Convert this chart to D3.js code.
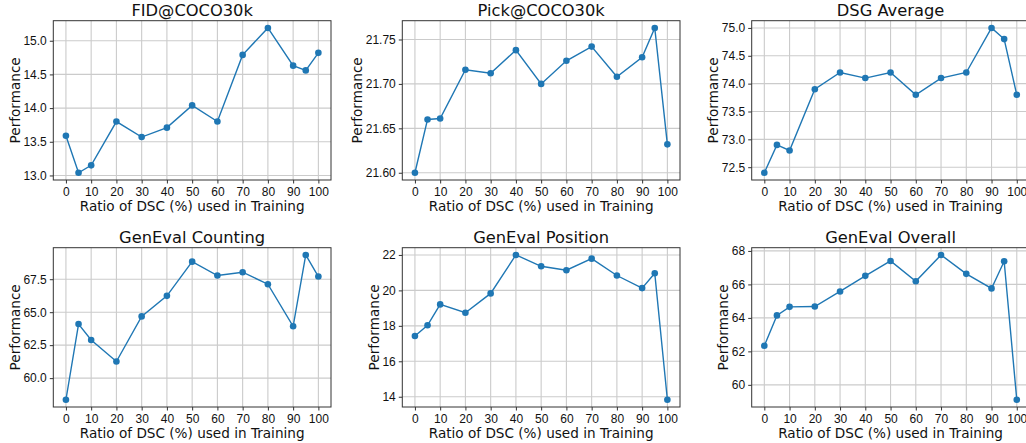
<!DOCTYPE html>
<html>
<head>
<meta charset="utf-8">
<script src="https://d3js.org/d3.v7.min.js"></script>
<style>
  body { margin: 0; background: #fff; }
  svg { display: block; font-family: "DejaVu Sans", sans-serif; }
  .tick text { font-size: 12px; fill: #111; }
  .tick line { stroke: #333; }
  .domain { display: none; }
</style>
</head>
<body>
<svg width="1026" height="443"></svg>
<script>
// x values (ratio of DSC used in training)
var ratios = [0, 5, 10, 20, 30, 40, 50, 60, 70, 80, 90, 95, 100];
var xTicks = [0, 10, 20, 30, 40, 50, 60, 70, 80, 90, 100];

// series
var fidCoco = [13.59, 13.04, 13.15, 13.80, 13.57, 13.71, 14.04, 13.80, 14.79, 15.19, 14.63, 14.56, 14.82];
var pickCoco = [21.600, 21.660, 21.661, 21.716, 21.712, 21.738, 21.700, 21.726, 21.742, 21.708, 21.730, 21.763, 21.632];
var dsgAverage = [72.4, 72.9, 72.8, 73.9, 74.2, 74.1, 74.2, 73.8, 74.1, 74.2, 75.0, 74.8, 73.8];
var genevalCounting = [58.36, 64.10, 62.89, 61.26, 64.68, 66.24, 68.83, 67.78, 68.03, 67.12, 63.93, 69.34, 67.70];
var genevalPosition = [17.43, 18.03, 19.21, 18.74, 19.83, 22.00, 21.36, 21.14, 21.79, 20.84, 20.13, 20.97, 13.83];
var genevalOverall = [62.34, 64.15, 64.66, 64.68, 65.58, 66.51, 67.40, 66.19, 67.76, 66.63, 65.76, 67.38, 59.11];

// y tick labels per panel
var fidTicks = [13.0, 13.5, 14.0, 14.5, 15.0];
var pickTicks = [21.60, 21.65, 21.70, 21.75];
var dsgTicks = [72.5, 73.0, 73.5, 74.0, 74.5, 75.0];
var countTicks = [60.0, 62.5, 65.0, 67.5];
var posTicks = [14, 16, 18, 20, 22];
var overallTicks = [60, 62, 64, 66, 68];

var panels = [
  { title: "FID@COCO30k", values: fidCoco, ticks: fidTicks, fmt: ".1f" },
  { title: "Pick@COCO30k", values: pickCoco, ticks: pickTicks, fmt: ".2f" },
  { title: "DSG Average", values: dsgAverage, ticks: dsgTicks, fmt: ".1f" },
  { title: "GenEval Counting", values: genevalCounting, ticks: countTicks, fmt: ".1f" },
  { title: "GenEval Position", values: genevalPosition, ticks: posTicks, fmt: "d" },
  { title: "GenEval Overall", values: genevalOverall, ticks: overallTicks, fmt: "d" }
];

// layout of the grid of axes
var lefts = [53.3, 402.3, 751.7];
var tops = [20.7, 247.7];
var w = 277.7;
var h = 159.3;

var svg = d3.select("svg");
svg.append("rect").attr("width", 1026).attr("height", 443).attr("fill", "#fff");

// matplotlib style 5% margins
function padded(ext) {
  var m = (ext[1] - ext[0]) * 0.05;
  return [ext[0] - m, ext[1] + m];
}

panels.forEach(function (p, i) {
  var left = lefts[i % 3];
  var top = tops[Math.floor(i / 3)];

  var x = d3.scaleLinear().domain(padded(d3.extent(ratios))).range([0, w]);
  var y = d3.scaleLinear().domain(padded(d3.extent(p.values))).range([h, 0]);

  var g = svg.append("g").attr("transform", "translate(" + left + "," + top + ")");

  // grid
  g.selectAll("line.gx").data(xTicks).enter().append("line")
    .attr("x1", function (d) { return x(d); }).attr("x2", function (d) { return x(d); })
    .attr("y1", 0).attr("y2", h)
    .attr("stroke", "#cbcbcb").attr("stroke-width", 1.1);
  g.selectAll("line.gy").data(p.ticks).enter().append("line")
    .attr("y1", function (d) { return y(d); }).attr("y2", function (d) { return y(d); })
    .attr("x1", 0).attr("x2", w)
    .attr("stroke", "#cbcbcb").attr("stroke-width", 1.1);

  // axes
  g.append("g").attr("transform", "translate(0," + h + ")")
    .call(d3.axisBottom(x).tickValues(xTicks).tickSize(3.5).tickPadding(4).tickFormat(d3.format("d")));
  var ya = g.append("g")
    .call(d3.axisLeft(y).tickValues(p.ticks).tickSize(3.5).tickPadding(3).tickFormat(d3.format(p.fmt)));

  // line and markers
  var line = d3.line()
    .x(function (d, j) { return x(ratios[j]); })
    .y(function (d) { return y(d); });
  g.append("path").datum(p.values)
    .attr("d", line)
    .attr("fill", "none")
    .attr("stroke", "#1f77b4")
    .attr("stroke-width", 1.4);
  g.selectAll("circle").data(p.values).enter().append("circle")
    .attr("cx", function (d, j) { return x(ratios[j]); })
    .attr("cy", function (d) { return y(d); })
    .attr("r", 3.3)
    .attr("fill", "#1f77b4");

  // spines
  g.append("rect").attr("width", w).attr("height", h)
    .attr("fill", "none").attr("stroke", "#333").attr("stroke-width", 1);

  // title and labels
  g.append("text").attr("x", w / 2).attr("y", -5)
    .attr("text-anchor", "middle").style("font-size", "16.3px").attr("fill", "#111")
    .text(p.title);
  g.append("text").attr("x", w / 2).attr("y", h + 31)
    .attr("text-anchor", "middle").style("font-size", "13.6px").attr("fill", "#111")
    .text("Ratio of DSC (%) used in Training");
  var bb = ya.node().getBBox();
  g.append("text")
    .attr("transform", "translate(" + (bb.x - 3.8) + "," + (h / 2) + ") rotate(-90)")
    .attr("text-anchor", "middle").style("font-size", "13.6px").attr("fill", "#111")
    .text("Performance");
});
</script>
</body>
</html>
